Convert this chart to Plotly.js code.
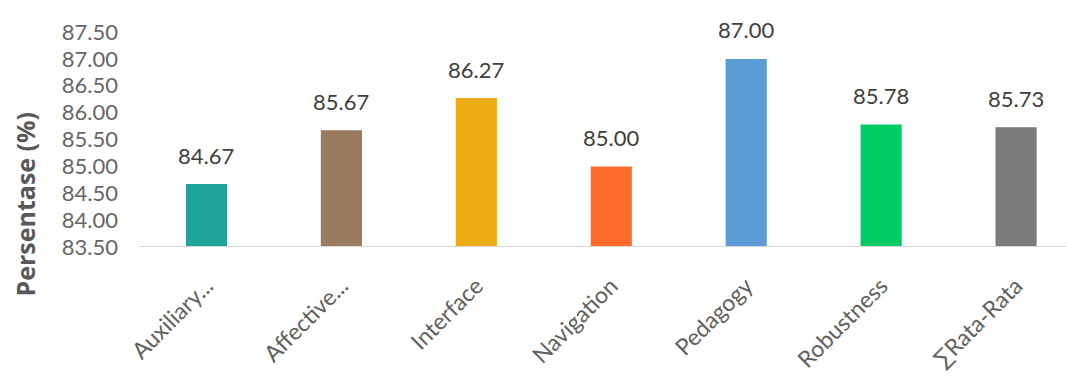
<!DOCTYPE html>
<html>
<head>
<meta charset="utf-8">
<script src="https://cdn.plot.ly/plotly-3.0.1.min.js"></script>
<style>
html,body{margin:0;padding:0;background:#fff;}
#chart{width:1066px;height:381px;}
</style>
</head>
<body>
<div id="chart"></div>
<script>
const categories = ["Auxiliary...", "Affective...", "Interface", "Navigation", "Pedagogy", "Robustness", "\u2211Rata-Rata"];
const values = [84.67, 85.67, 86.27, 85.00, 87.00, 85.78, 85.73];
const barColors = ["#20A39A", "#9A7B5F", "#EBAC13", "#FF6B2B", "#5B9BD6", "#00CC66", "#7B7B7B"];
const yTickVals = [83.5, 84.0, 84.5, 85.0, 85.5, 86.0, 86.5, 87.0, 87.5];

const trace = {
  type: "bar",
  x: categories,
  y: values,
  marker: {color: barColors},
  width: 0.305,
  hoverinfo: "skip"
};

const valueLabels = categories.map((c, i) => ({
  x: c, y: values[i], xref: "x", yref: "y",
  text: values[i].toFixed(2),
  showarrow: false,
  xanchor: "center", yanchor: "middle",
  yshift: 29,
  font: {family: "Lato, sans-serif", size: 22, color: "#404040"}
}));

const layout = {
  width: 1066,
  height: 381,
  margin: {l: 138.5, r: 0, t: 32, b: 133.5},
  paper_bgcolor: "#ffffff",
  plot_bgcolor: "#ffffff",
  showlegend: false,
  xaxis: {
    type: "category",
    range: [-0.5, 6.37],
    tickangle: -45,
    tickfont: {family: "Lato, sans-serif", size: 23, color: "#606060"},
    showline: false,
    showgrid: false,
    ticks: "",
    zeroline: false,
    ticklabelstandoff: 20
  },
  yaxis: {
    range: [83.5, 87.5],
    tickvals: yTickVals,
    ticktext: yTickVals.map(v => v.toFixed(2)),
    tickfont: {family: "Lato, sans-serif", size: 22, color: "#666666"},
    showgrid: false,
    zeroline: false,
    showline: false,
    ticks: "",
    ticklabelstandoff: 20
  },
  shapes: [{
    type: "line", xref: "paper", yref: "y",
    x0: 0, x1: 1, y0: 83.5, y1: 83.5,
    line: {color: "#D9D9D9", width: 2}
  }],
  annotations: valueLabels.concat([{
    text: "<b>Persentase (%)</b>",
    xref: "paper", yref: "paper",
    x: -0.1235, y: 0.2,
    xanchor: "center", yanchor: "middle",
    textangle: -90,
    showarrow: false,
    font: {family: "'Open Sans', sans-serif", size: 25, color: "#595959"}
  }])
};

Plotly.newPlot("chart", [trace], layout, {displayModeBar: false, staticPlot: true});
</script>
</body>
</html>
